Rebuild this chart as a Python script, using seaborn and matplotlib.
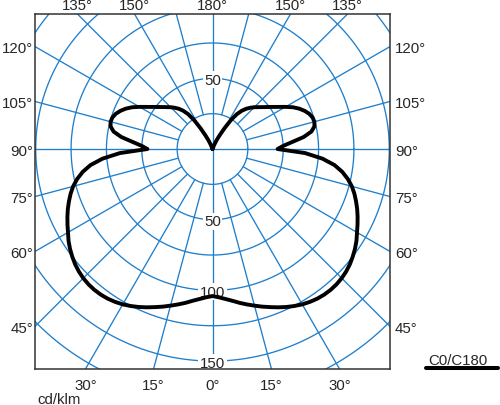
import numpy as np
import pandas as pd
import matplotlib
matplotlib.use("Agg")
import matplotlib.pyplot as plt
import seaborn as sns

# ---- data ----
gamma = [0, 2.5, 5, 7.5, 10, 12.5, 15, 17.5, 20, 22.5, 25, 27.5, 30, 32.5, 35, 37.5,
         40, 42.5, 45, 47.5, 50, 52.5, 55, 57.5, 60, 62.5, 65, 67.5, 70, 72.5, 75,
         77.5, 80, 82.5, 85, 87.5, 90, 92.5, 95, 97.5, 100, 102.5, 105, 107.5, 110,
         112.5, 115, 117.5, 120, 122.5, 125, 127.5, 130, 132.5, 135, 137.5, 140,
         142.5, 145, 147.5, 150, 152.5, 155, 157.5, 160, 165, 170, 175, 180]
intensity = [104, 105, 106.5, 108.3, 110.5, 112.6, 114.7, 116.9, 119, 121.2, 123.3,
             125.2, 126.9, 128.2, 129.2, 129.8, 130, 129.8, 129.2, 128.2, 126.8, 125,
             123, 120.7, 118, 115.6, 113.2, 110.7, 108, 105.2, 102, 98, 93.2, 87, 78,
             65.5, 46, 50, 56.5, 65, 71, 73.8, 74.6, 74.2, 72.8, 70.5, 67.6, 64, 59.6,
             55.5, 51.9, 48.8, 46.2, 43.9, 41.8, 39.6, 37.2, 34.2, 30.2, 24.5, 17, 11,
             7, 3.5, 1, 0, 0, 0, 0]
ring_values = [25, 50, 75, 100, 125, 150, 175, 200]
ring_labels = ["50", "50", "100", "150"]
ring_label_r = [50, -50, -100, -150]
left_angles = [120, 105, 90, 75, 60, 45]
bottom_angles = [30, 15, 0, 15, 30]
bottom_sides = [-1, -1, 0, 1, 1]
top_angles = [135, 150, 180, 150, 135]
top_sides = [-1, -1, 0, 1, 1]
unit_label = "cd/klm"
legend_label = "C0/C180"

BLUE = "#1f7fcc"
FONT = "Liberation Sans"
FS = 10.8

sns.set_style("white")
plt.rcParams["font.family"] = [FONT, "DejaVu Sans"]

fig = plt.figure(figsize=(5.0, 4.06), dpi=100)
ax = fig.add_axes([35 / 500, 36 / 406, 355 / 500, 355 / 406])
XL, XR = -125.5, 125.5
YB, YT = -155.6, 95.5
ax.set_xlim(XL, XR)
ax.set_ylim(YB, YT)
ax.set_xticks([])
ax.set_yticks([])
for s in ax.spines.values():
    s.set_color("#333333")
    s.set_linewidth(1.1)

# ---- polar grid ----
t = np.linspace(0, 2 * np.pi, 721)
for r in ring_values:
    ax.plot(r * np.cos(t), r * np.sin(t), color=BLUE, lw=0.95, zorder=1)
for a in range(0, 360, 15):
    rad = np.deg2rad(a)
    r0 = 0 if a % 90 == 0 else 25
    ax.plot([r0 * np.sin(rad), 300 * np.sin(rad)],
            [-r0 * np.cos(rad), -300 * np.cos(rad)], color=BLUE, lw=0.95, zorder=1)

# ---- curve ----
g = np.array(gamma, dtype=float)
iv = np.array(intensity, dtype=float)
left = pd.DataFrame({"x": -iv * np.sin(np.deg2rad(g)), "y": -iv * np.cos(np.deg2rad(g))}).iloc[::-1]
right = pd.DataFrame({"x": iv * np.sin(np.deg2rad(g)), "y": -iv * np.cos(np.deg2rad(g))}).iloc[1:]
curve = pd.concat([left, right], ignore_index=True)
sns.lineplot(data=curve, x="x", y="y", sort=False, estimator=None, color="black",
             lw=2.8, ax=ax, zorder=3, legend=False)
ax.set_xlabel("")
ax.set_ylabel("")

# ---- ring labels ----
for lab, rv in zip(ring_labels, ring_label_r):
    ax.annotate(lab, xy=(0, rv), xytext=(0, -5.5), textcoords="offset pixels",
                ha="center", va="baseline", fontsize=FS, zorder=2,
                bbox=dict(boxstyle="square,pad=0.1", fc="white", ec="none"))

# ---- angle labels ----
for a in left_angles:
    rad = np.deg2rad(a)
    tt = -XL / np.sin(rad)
    yv = -np.cos(rad) * tt
    ax.annotate(f"{a}°", xy=(XL, yv), xytext=(-2, -5.5), textcoords="offset pixels",
                ha="right", va="baseline", fontsize=FS, annotation_clip=False)
    ax.annotate(f"{a}°", xy=(XR, yv), xytext=(5, -5.5), textcoords="offset pixels",
                ha="left", va="baseline", fontsize=FS, annotation_clip=False)
for a, sd in zip(bottom_angles, bottom_sides):
    xv = sd * (-YB) * np.tan(np.deg2rad(a))
    ax.annotate(f"{a}°", xy=(xv, YB), xytext=(0, -20), textcoords="offset pixels",
                ha="center", va="baseline", fontsize=FS, annotation_clip=False)
for a, sd in zip(top_angles, top_sides):
    xv = sd * YT * np.tan(np.deg2rad(180 - a))
    ax.annotate(f"{a}°", xy=(xv, YT), xytext=(0, 4.5), textcoords="offset pixels",
                ha="center", va="baseline", fontsize=FS, annotation_clip=False)

fig.text(37 / 500, 1 - 404 / 406, unit_label, ha="left", va="baseline", fontsize=FS)
fig.text(428 / 500, 1 - 365 / 406, legend_label, ha="left", va="baseline", fontsize=FS)
fig.add_artist(plt.Line2D([426 / 500, 498 / 500], [1 - 368.5 / 406, 1 - 368.5 / 406],
                          transform=fig.transFigure, color="black", lw=2.9))

fig.savefig("out.png", dpi=100)
